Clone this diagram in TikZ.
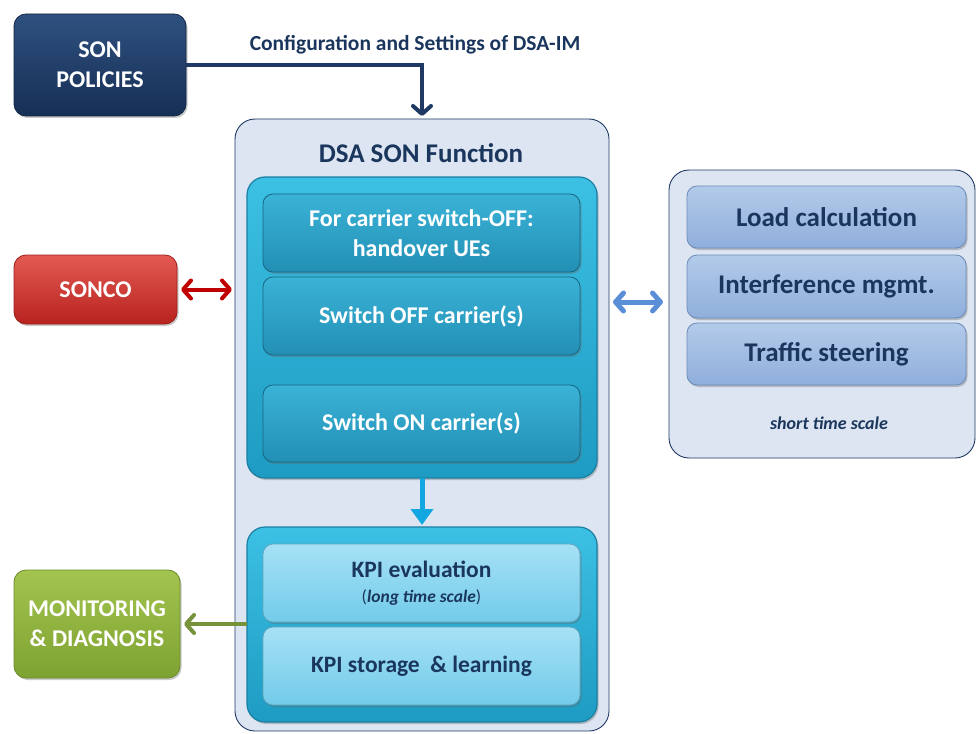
\documentclass[tikz,border=0pt]{standalone}
\usepackage{fontspec}
\setmainfont{Carlito}
\usetikzlibrary{arrows.meta,shadows}

\definecolor{navy}{HTML}{1F3864}
\definecolor{navytxt}{HTML}{1B365D}
\definecolor{panel}{HTML}{DCE5F1}
\definecolor{cyanTop}{HTML}{3CC0E4}
\definecolor{cyanBot}{HTML}{1E9BC2}
\definecolor{cyanEdge}{HTML}{1B7FA3}
\definecolor{tealTop}{HTML}{3AB3D6}
\definecolor{tealBot}{HTML}{238FB5}
\definecolor{lightTop}{HTML}{A6E1F5}
\definecolor{lightBot}{HTML}{72CBEA}
\definecolor{steelTop}{HTML}{B3CBEA}
\definecolor{steelBot}{HTML}{8FAEDB}
\definecolor{polTop}{HTML}{2F507F}
\definecolor{polBot}{HTML}{162F55}
\definecolor{redTop}{HTML}{E35A52}
\definecolor{redBot}{HTML}{B8231F}
\definecolor{grnTop}{HTML}{A3C44E}
\definecolor{grnBot}{HTML}{7EA232}
\definecolor{arrRed}{HTML}{C00000}
\definecolor{arrBlue}{HTML}{5A8FD8}
\definecolor{arrCyan}{HTML}{12A7E0}
\definecolor{arrGreen}{HTML}{76933C}

\tikzset{
  every node/.style={inner sep=0pt, outer sep=0pt},
  softshadow/.style={drop shadow={shadow xshift=1.5pt, shadow yshift=-2pt, opacity=0.35, fill=black!60}},
  extbox/.style={rounded corners=12pt, softshadow, text=white, align=center,
    font=\bfseries\fontsize{24}{30}\selectfont},
  policybox/.style={extbox, top color=polTop, bottom color=polBot, draw=polBot!80!black, line width=0.8pt},
  redbox/.style={extbox, top color=redTop, bottom color=redBot, draw=redBot!85!black, line width=0.8pt},
  greenbox/.style={extbox, top color=grnTop, bottom color=grnBot, draw=grnBot!85!black, line width=0.8pt},
  container/.style={rounded corners=20pt, fill=panel, draw=navy, line width=0.9pt},
  cyanbox/.style={rounded corners=18pt, top color=cyanTop, bottom color=cyanBot,
    draw=cyanEdge, line width=1.2pt, softshadow},
  tealsub/.style={rounded corners=10pt, top color=tealTop, bottom color=tealBot,
    draw=cyanEdge!80!black, line width=0.8pt, softshadow, text=white, align=center,
    minimum width=317pt, font=\bfseries\fontsize{24}{30}\selectfont},
  lightsub/.style={rounded corners=10pt, top color=lightTop, bottom color=lightBot,
    draw=cyanEdge!70, line width=0.8pt, softshadow, text=navytxt, align=center,
    minimum width=317pt, font=\bfseries\fontsize{23.5}{28}\selectfont},
  steelsub/.style={rounded corners=10pt, top color=steelTop, bottom color=steelBot,
    draw=steelBot!70!navy, line width=0.8pt, softshadow, text=navytxt, align=center,
    minimum width=279pt, font=\bfseries\fontsize{27}{30}\selectfont},
  barb/.tip={Straight Barb[length=8pt, width=18pt, line cap=round, line join=round]},
}

\begin{document}
\begin{tikzpicture}[x=1pt, y=-1pt]
\useasboundingbox (0,0) rectangle (976,733);

% external entities
\node[policybox, minimum width=172pt, minimum height=102pt] (pol) at (100,65) {SON\\POLICIES};
\node[redbox, minimum width=163pt, minimum height=69pt] (sonco) at (95.5,289.5) {SONCO};
\node[greenbox, minimum width=166pt, minimum height=108pt] (mon) at (97,624) {MONITORING\\\&{} DIAGNOSIS};

% DSA SON function container
\node[container, minimum width=374pt, minimum height=612pt] (dsa) at (422,425) {};
\node[text=navytxt, font=\bfseries\fontsize{27}{30}\selectfont] (title) at (421,153) {DSA SON Function};

% carrier control block
\node[cyanbox, minimum width=350pt, minimum height=301pt] (ctrl) at (422,327.5) {};
\node[tealsub, minimum height=78pt] (ho) at (421.5,233) {For carrier switch-OFF:\\handover UEs};
\node[tealsub, minimum height=78pt] (off) at (421.5,316) {Switch OFF carrier(s)};
\node[tealsub, minimum height=77pt] (on) at (421.5,423.5) {Switch ON carrier(s)};

% KPI block
\node[cyanbox, minimum width=350pt, minimum height=195pt] (kpi) at (422,624.5) {};
\node[lightsub, minimum height=78pt] (eval) at (421.5,583)
  {KPI evaluation\\[-3pt]{\mdseries\fontsize{17.5}{20}\selectfont(\textit{\bfseries long time scale})}};
\node[lightsub, minimum height=78pt] (store) at (421.5,666) {KPI storage \ \&{} learning};

% short time scale functions
\node[container, minimum width=306pt, minimum height=288pt] (rc) at (822,314) {};
\node[steelsub, minimum height=62pt] (load) at (826.5,217) {Load calculation};
\node[steelsub, minimum height=63pt] (intf) at (826.5,286.5) {Interference mgmt.};
\node[steelsub, minimum height=62pt] (traf) at (826.5,354) {Traffic steering};
\node[text=navytxt, font=\bfseries\itshape\fontsize{18}{20}\selectfont] (sts) at (829,423) {short time scale};

% connectors
\coordinate (bend) at (dsa.north |- pol.east);
\draw[navy, line width=4pt, -{barb}] (pol.east) -- (bend) -- ([yshift=3pt]dsa.north);
\node[text=navytxt, font=\bfseries\fontsize{21.5}{24}\selectfont] (cfg) at (415,45)
  {Configuration and Settings of DSA-IM};

\draw[arrRed, line width=4pt, {barb}-{barb}]
  ([xshift=4pt]sonco.east) -- ([xshift=-3pt]dsa.west |- sonco.east);

\coordinate (lk) at (0,302);
\draw[arrBlue, line width=5pt, {barb}-{barb}]
  ([xshift=4pt]dsa.east |- lk) -- ([xshift=-6pt]rc.west |- lk);

\draw[arrCyan, line width=5pt, -{Triangle[length=16pt, width=22pt]}]
  (ctrl.south) -- ([yshift=2pt]kpi.north);

\draw[arrGreen, line width=4pt, -{barb}]
  (kpi.west |- mon.east) -- ([xshift=4pt]mon.east);
\end{tikzpicture}
\end{document}
